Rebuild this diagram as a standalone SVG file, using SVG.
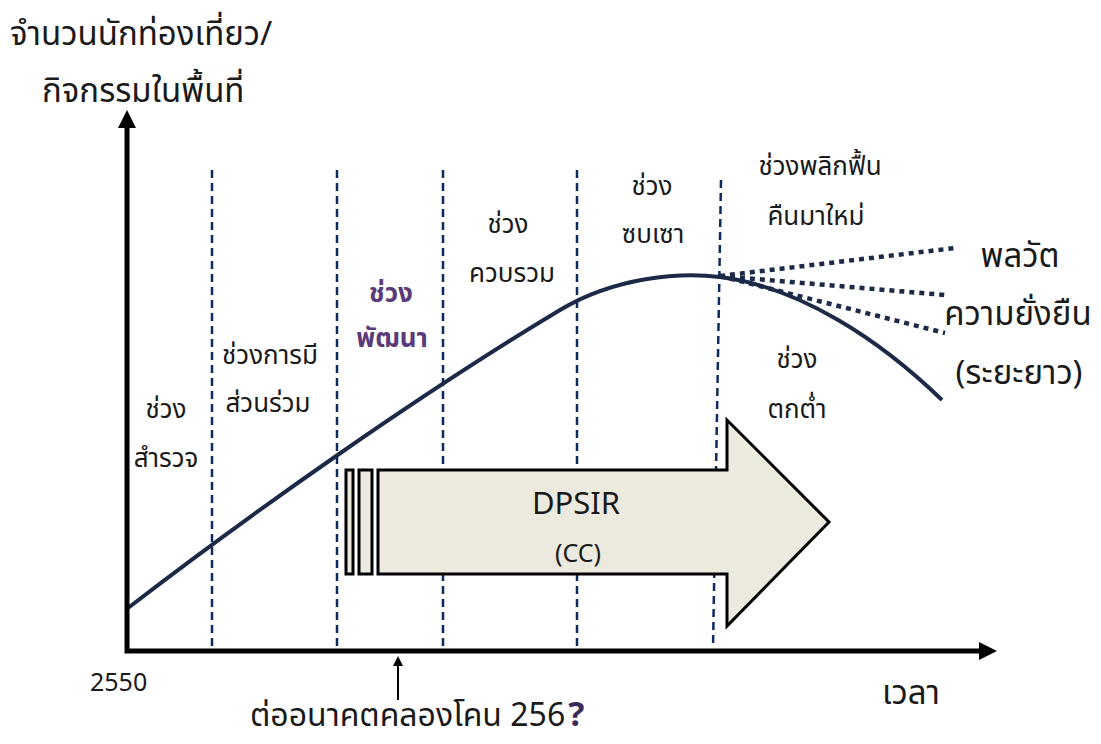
<svg xmlns="http://www.w3.org/2000/svg" width="1101" height="744" viewBox="0 0 1101 744">
<style>
.t{font-family:Tahoma,"Noto Sans Thai","Noto Sans","DejaVu Sans",sans-serif;fill:#1a1a1a;}
.lab{font-size:26px;text-anchor:middle;}
.big{font-size:33px;}
.dash{stroke:#0f2a5e;stroke-width:2.5;stroke-dasharray:8 5;fill:none;}
.dot{stroke:#1c2a48;stroke-width:4.5;stroke-dasharray:5 5;fill:none;}
</style>
<defs>
<marker id="ah" markerWidth="10" markerHeight="10" refX="8" refY="5" orient="auto" markerUnits="userSpaceOnUse">
<path d="M0,0 L10,5 L0,10 Z" fill="#000"/>
</marker>
</defs>
<rect width="1101" height="744" fill="#fff"/>
<g id="grid">
<line class="dash" x1="212" y1="170" x2="212" y2="648"/>
<line class="dash" x1="337" y1="170" x2="337" y2="648"/>
<line class="dash" x1="443" y1="170" x2="443" y2="648"/>
<line class="dash" x1="577" y1="170" x2="577" y2="648"/>
<line class="dash" x1="721" y1="180" x2="713" y2="648"/>
</g>
<g id="curve">
<path d="M128,608 C250,514 420,394 560,310 C615,277 680,272 720,277 C800,287 880,340 942,400" fill="none" stroke="#1c2a48" stroke-width="4"/>
<line class="dot" x1="720" y1="276" x2="955" y2="248"/>
<line class="dot" x1="720" y1="276" x2="945" y2="295"/>
<line class="dot" x1="720" y1="276" x2="945" y2="333"/>
</g>
<g id="dpsir">
<path d="M378,470 L727,470 L727,420 L829,522 L727,626 L727,574 L378,574 Z" fill="#ece9de" stroke="#000" stroke-width="3"/>
<rect x="346" y="470" width="7" height="104" fill="#ece9de" stroke="#000" stroke-width="3"/>
<rect x="359" y="470" width="13" height="104" fill="#ece9de" stroke="#000" stroke-width="3"/>
<text class="t" x="576" y="514" font-size="31" text-anchor="middle">DPSIR</text>
<text class="t" x="578" y="562" font-size="25" text-anchor="middle">(CC)</text>
</g>
<g id="axes">
<polyline points="127,118 127,651 985,651" fill="none" stroke="#000" stroke-width="5"/>
<path d="M127,110 L118,128 L136,128 Z" fill="#000"/>
<path d="M997,651 L979,642 L979,660 Z" fill="#000"/>
<line x1="398" y1="700" x2="398" y2="658" stroke="#000" stroke-width="2" marker-end="url(#ah)"/>
</g>
<g id="labels">
<text class="t big" x="10" y="45">จำนวนนักท่องเที่ยว/</text>
<text class="t big" x="42" y="102">กิจกรรมในพื้นที่</text>
<text class="t lab" x="166" y="418">ช่วง</text>
<text class="t lab" x="166" y="467">สำรวจ</text>
<text class="t lab" x="270" y="364">ช่วงการมี</text>
<text class="t lab" x="268" y="412">ส่วนร่วม</text>
<text class="t lab" x="391" y="302" style="fill:#5a3a7a;font-weight:bold">ช่วง</text>
<text class="t lab" x="392" y="347" style="fill:#5a3a7a;font-weight:bold">พัฒนา</text>
<text class="t lab" x="508" y="233">ช่วง</text>
<text class="t lab" x="512" y="282">ควบรวม</text>
<text class="t lab" x="652" y="195">ช่วง</text>
<text class="t lab" x="653" y="243">ซบเซา</text>
<text class="t lab" x="820" y="175">ช่วงพลิกฟื้น</text>
<text class="t lab" x="816" y="225">คืนมาใหม่</text>
<text class="t lab" x="797" y="368">ช่วง</text>
<text class="t lab" x="797" y="418">ตกต่ำ</text>
<text class="t" x="1020" y="267" font-size="33" text-anchor="middle">พลวัต</text>
<text class="t" x="1018" y="325" font-size="33" text-anchor="middle">ความยั่งยืน</text>
<text class="t" x="1019" y="384" font-size="33" text-anchor="middle">(ระยะยาว)</text>
<text class="t" x="90" y="691" font-size="25">2550</text>
<text class="t" x="882" y="704" font-size="33">เวลา</text>
<text class="t" x="250" y="726" font-size="32">ต่ออนาคตคลองโคน 256<tspan dx="3" style="fill:#3a2a5a;font-weight:bold" font-size="34">?</tspan></text>
</g>
</svg>
